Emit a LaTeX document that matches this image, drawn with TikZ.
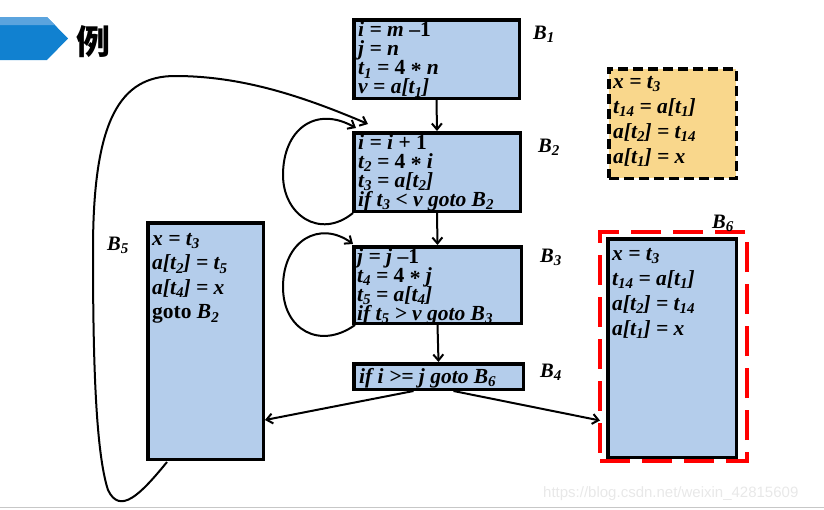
\documentclass[tikz,border=0pt]{standalone}
\usepackage{fontspec}
\setmainfont{Liberation Serif}
\newfontfamily\cjkfont{Noto Sans CJK SC}
\newfontfamily\wmfont{Liberation Sans}
\usetikzlibrary{arrows.meta}

\definecolor{blockblue}{RGB}{180,205,235}
\definecolor{noteyellow}{RGB}{249,215,140}
\definecolor{hdrblue}{RGB}{17,129,208}
\definecolor{hdrlight}{RGB}{91,164,222}

\newcommand\sbs[1]{\raisebox{-0.4ex}{\fontsize{15}{15}\selectfont #1}}
\newcommand\up[1]{{\upshape #1}}
\newcommand\mul{\raisebox{-0.35ex}{\upshape *}}
\newcommand\tightlines{\lineskiplimit=-100pt\relax}

\begin{document}
\begin{tikzpicture}
	[x=1pt,y=-1pt,
	blk/.style={draw, line width=3.5pt, fill=blockblue, inner sep=0pt},
	code/.style={anchor=base west, align=left, inner sep=0pt, font={\fontsize{21.5}{#1}\selectfont\bfseries\itshape\tightlines}},
	code/.default=19,
	blab/.style={anchor=base west, inner sep=0pt, font=\fontsize{20.5}{20.5}\selectfont\bfseries\itshape},
	flow/.style={-{Straight Barb[length=6pt,width=10pt]}, line width=2pt}]
	\useasboundingbox (0,0) rectangle (824,509);

	\fill[hdrblue] (0,17) -- (47,17) -- (68,38.5) -- (47,60) -- (0,60) -- cycle;
	\fill[hdrlight] (0,17) -- (47,17) -- (55,25) -- (0,25) -- cycle;
	\node[font=\cjkfont\bfseries\fontsize{34}{34}\selectfont] (title) at (93,42) {例};

	\node[blk, minimum width=165.5, minimum height=78.5] (b1) at (436.5,59) {};
	\node[blk, minimum width=166.5, minimum height=78.5] (b2) at (437,172) {};
	\node[blk, minimum width=167.5, minimum height=76.5] (b3) at (437.5,285) {};
	\node[blk, minimum width=169.5, minimum height=25.5] (b4) at (438.5,376.5) {};
	\node[blk, minimum width=115.5, minimum height=236.5] (b5) at (205.5,341) {};
	\node[blk, minimum width=128.5, minimum height=218.5] (b6) at (672,348) {};
	\node[draw=red, line width=4pt, dash pattern=on 30pt off 12pt, minimum width=147, minimum height=229, inner sep=0pt] (rb6) at (673.5,346.5) {};
	\node[draw, fill=noteyellow, line width=3.5pt, dash pattern=on 10pt off 5pt, minimum width=127.5, minimum height=109.5, inner sep=0pt] (note) at (672.5,123.5) {};

	% anchor is the baseline of the last line
	\node[code] (t1) at (358,93.5) {i = m \up{–1}\\ j = n\\ t\sbs{1} = \up{4} \mul{} n\\ v = a[t\sbs{1}]};
	\node[code] (t2) at (358,206) {i = i \up{+ 1}\\ t\sbs{2} = \up{4} \mul{} i\\ t\sbs{3} = a[t\sbs{2}]\\ if t\sbs{3} < v goto B\sbs{2}};
	\node[code] (t3) at (357,320) {j = j \up{–1}\\ t\sbs{4} = \up{4} \mul{} j\\ t\sbs{5} = a[t\sbs{4}]\\ if t\sbs{5} > v goto B\sbs{3}};
	\node[code] (t4) at (359,383) {if i >= j goto B\sbs{6}};
	\node[code=24.5] (t5) at (152,318.5) {x = t\sbs{3}\\ a[t\sbs{2}] = t\sbs{5}\\ a[t\sbs{4}] = x\\ \up{goto} B\sbs{2}};
	\node[code=25] (t6) at (612,335) {x = t\sbs{3}\\ t\sbs{14} = a[t\sbs{1}]\\ a[t\sbs{2}] = t\sbs{14}\\ a[t\sbs{1}] = x};
	\node[code=25] (tn) at (613,163) {x = t\sbs{3}\\ t\sbs{14} = a[t\sbs{1}]\\ a[t\sbs{2}] = t\sbs{14}\\ a[t\sbs{1}] = x};

	\node[blab] (lb1) at (533,39) {B\sbs{1}};
	\node[blab] (lb2) at (538,152) {B\sbs{2}};
	\node[blab] (lb3) at (540,262) {B\sbs{3}};
	\node[blab] (lb4) at (540,377) {B\sbs{4}};
	\node[blab] (lb5) at (107,250) {B\sbs{5}};
	\node[blab] (lb6) at (712,228) {B\sbs{6}};

	\foreach \from/\to in {b1/b2,b2/b3,b3/b4}
	\draw[flow] (\from.south) -- (\to.north);

	\draw[flow] ([shift={(-25,0)}]b4.south) -- ([shift={(0,79)}]b5.east);
	\draw[flow] ([shift={(15,0)}]b4.south) -- ([shift={(2,74)}]rb6.west);

	\draw[flow] ([shift={(1,0)}]b2.south west) .. controls (320,240) and (283,215) .. (283,175)
		.. controls (283,130) and (315,105) .. ([shift={(4,-3)}]b2.north west);
	\draw[flow] ([shift={(3,0)}]b3.south west) .. controls (320,350) and (283,330) .. (283,287)
		.. controls (283,240) and (320,220) .. ([shift={(1,-1)}]b3.north west);
	\draw[flow] ([shift={(21,1)}]b5.south west) .. controls (140,495) and (120,515) .. (108,490)
		.. controls (95,450) and (93,350) .. (93,250)
		.. controls (93,120) and (120,76) .. (175,76)
		.. controls (240,76) and (300,95) .. ([shift={(16,-7)}]b2.north west);

	\node[anchor=base west, inner sep=0pt, text=black!9, font=\wmfont\fontsize{15}{15}\selectfont] (wm) at (543,497) {https://blog.csdn.net/weixin\_42815609};
	\draw[black!22, line width=1.2pt] (0,507.5) -- (824,507.5);
\end{tikzpicture}
\end{document}
